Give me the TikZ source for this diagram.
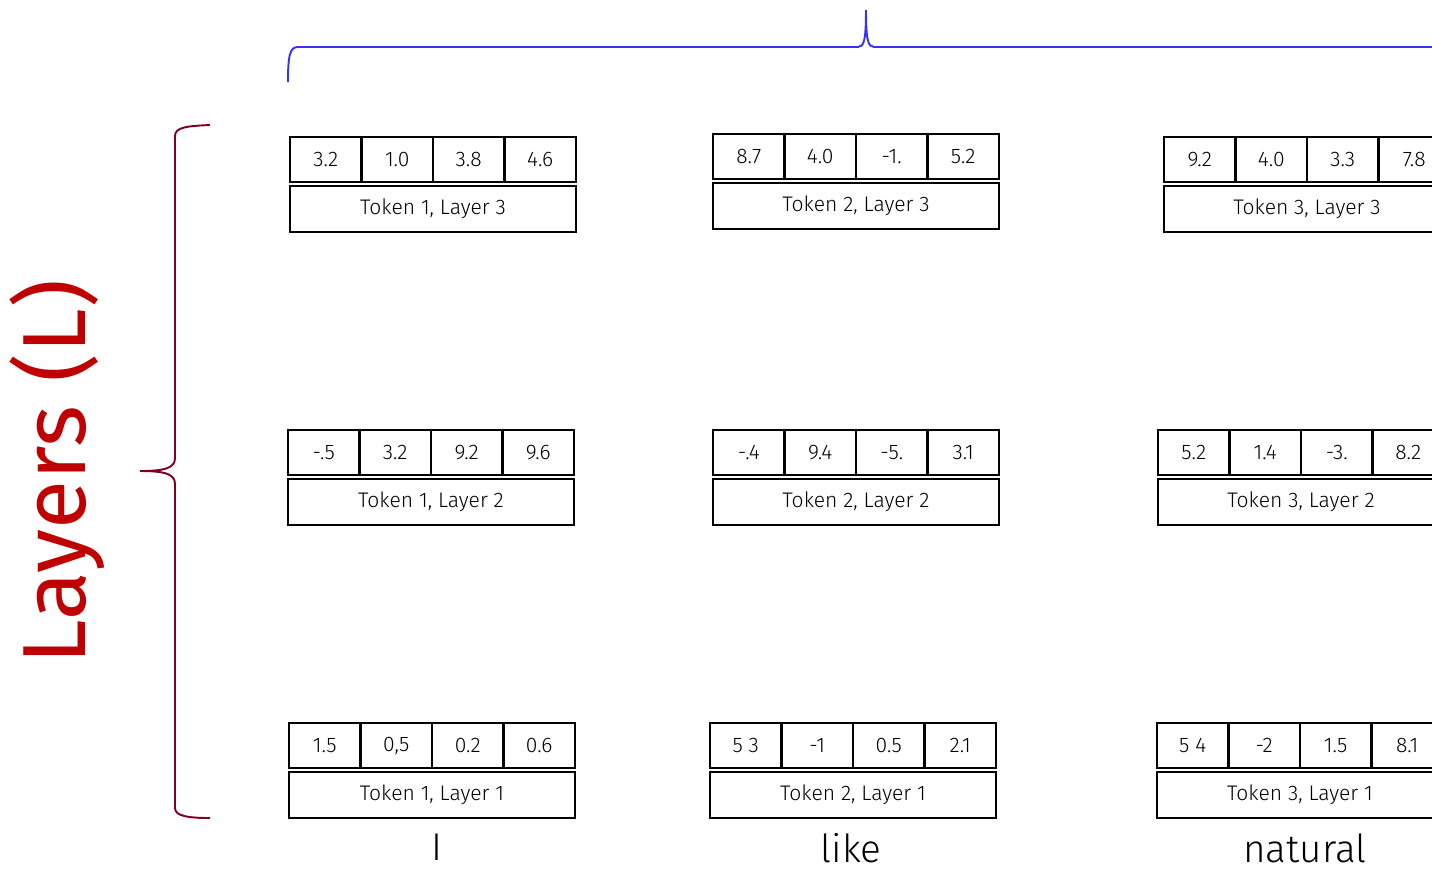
\documentclass[tikz,border=0pt]{standalone}
\usepackage{fontspec}
\setmainfont{Fira Sans Light}
\newfontfamily\titlefont{Fira Sans}
\usetikzlibrary{positioning}
\definecolor{bracered}{RGB}{128,0,32}
\definecolor{layerred}{RGB}{192,0,0}
\definecolor{braceblue}{RGB}{55,50,245}
\tikzset{
  cell/.style={draw, line width=1.6pt, outer sep=0pt, inner sep=0pt,
    minimum width=1.43cm, minimum height=0.9cm, anchor=north west,
    font=\fontsize{12}{12}\selectfont},
  tagbox/.style={cell, minimum width=5.72cm, minimum height=0.92cm},
  word/.style={anchor=base, inner sep=0pt, font=\fontsize{22}{22}\selectfont},
}
\newcommand{\embvec}[7]{% four values in a row, tag box under them, top left at (#2)
  \node[cell] (#1v1) at (#2) {#3};
  \node[cell, right=0pt of #1v1] (#1v2) {#4};
  \node[cell, right=0pt of #1v2] (#1v3) {#5};
  \node[cell, right=0pt of #1v3] (#1v4) {#6};
  \node[tagbox, below=2.3pt of #1v1.south west, anchor=north west] (#1tag) {#7};
}

\begin{document}
\begin{tikzpicture}[x=0.02cm,y=-0.02cm]
  \useasboundingbox (0,0) rectangle (1432,869);
  \clip (0,0) rectangle (1432,869);

  % layer 3
  \embvec{ta}{290,137}{3.2}{1.0}{3.8}{4.6}{Token 1, Layer 3}
  \embvec{tb}{713,134}{8.7}{4.0}{-1.}{5.2}{Token 2, Layer 3}
  \embvec{tc}{1164,137}{9.2}{4.0}{3.3}{7.8}{Token 3, Layer 3}
  % layer 2
  \embvec{ma}{288,430}{-.5}{3.2}{9.2}{9.6}{Token 1, Layer 2}
  \embvec{mb}{713,430}{-.4}{9.4}{-5.}{3.1}{Token 2, Layer 2}
  \embvec{mc}{1158,430}{5.2}{1.4}{-3.}{8.2}{Token 3, Layer 2}
  % layer 1
  \embvec{ba}{289,723}{1.5}{0,5}{0.2}{0.6}{Token 1, Layer 1}
  \embvec{bb}{710,723}{5 3}{-1}{0.5}{2.1}{Token 2, Layer 1}
  \embvec{bc}{1157,723}{5 4}{-2}{1.5}{8.1}{Token 3, Layer 1}

  % input words
  \node[word] (wa) at (437,860) {I};
  \node[word] (wb) at (851,862) {like};
  \node[word] (wc) at (1305,862) {natural};

  % brace over the layers
  \draw[bracered, line width=1.1pt]
    (210,125) .. controls (188,126) and (175,127) .. (175,136)
    -- (175,458) .. controls (175,468) and (165,471) .. (140,471)
    .. controls (165,471) and (175,474) .. (175,484)
    -- (175,808) .. controls (175,816) and (188,818) .. (210,818);
  \node[rotate=90, text=layerred, font=\titlefont\fontsize{51}{51}\selectfont]
    (layers) at (57,472) {Layers (L)};

  % brace over the tokens
  \draw[braceblue, line width=1.1pt]
    (288,82) .. controls (288,55) and (290,47) .. (298,47)
    -- (858,47) .. controls (864,47) and (866,40) .. (866,10)
    .. controls (866,40) and (868,47) .. (874,47)
    -- (1434,47) .. controls (1442,47) and (1444,55) .. (1444,82);
\end{tikzpicture}
\end{document}
